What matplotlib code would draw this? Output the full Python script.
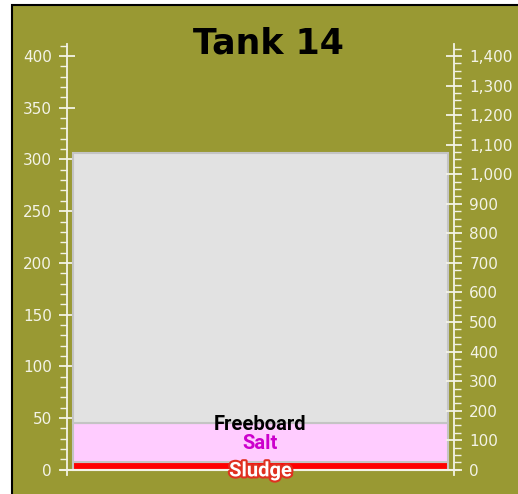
import matplotlib
matplotlib.use('Agg')
import matplotlib.pyplot as plt
import matplotlib.patheffects as pe
from matplotlib.patches import Rectangle
from matplotlib.ticker import MultipleLocator, FuncFormatter

# tank levels (left axis units), stacked bottom -> top
layers = ['Sludge', 'Salt', 'Freeboard']
heights = [8, 37, 261]
fills = ['#ff0000', '#ffccff', '#e2e2e2']
label_colors = ['white', '#cc00cc', 'black']
title = 'Tank 14'
ratio = 3.5  # right axis = left axis * ratio

olive = '#999933'
tick_col = '#f3f3e6'

fig = plt.figure(figsize=(5.18, 4.94), dpi=100)
fig.patch.set_facecolor('white')
bg = Rectangle((12 / 518, -0.05), 1.0, 1.05 - 5 / 494, transform=fig.transFigure,
               facecolor=olive, edgecolor='black', linewidth=1.5, zorder=-10)
fig.add_artist(bg)

ax = fig.add_axes([67 / 518, 19 / 494, (454 - 67) / 518, (475 - 44) / 494])
ax.set_facecolor('none')
ax.set_xlim(0, 1)
ax.set_ylim(-5, 411.6)

bottom = 0
for h, c in zip(heights, fills):
    ax.bar(0.5, h, width=0.968, bottom=bottom, color=c, edgecolor='#c4c4c4', linewidth=1.5, zorder=2)
    bottom += h

ax.axhline(0, color=tick_col, linewidth=1.5, xmin=-0.016, xmax=1.013, clip_on=False, zorder=3)

# layer labels
label_font = dict(family=['Roboto', 'DejaVu Sans'], fontsize=14.5, fontweight='bold',
                  ha='center', va='center', zorder=5)
ax.text(0.5, 43.5, layers[2], color=label_colors[2], **label_font)
ax.text(0.5, 25.5, layers[1], color=label_colors[1], **label_font)
ax.text(0.5, -1, layers[0], color=label_colors[0],
        path_effects=[pe.withStroke(linewidth=3, foreground='#e03020')], **label_font)

for s in ['top', 'right', 'bottom']:
    ax.spines[s].set_visible(False)
ax.spines['left'].set_color(tick_col)
ax.spines['left'].set_linewidth(1.3)
ax.set_xticks([])
ax.yaxis.set_major_locator(MultipleLocator(50))
ax.yaxis.set_minor_locator(MultipleLocator(10))
ax.tick_params(axis='y', which='major', direction='inout', length=12, width=1.3,
               colors=tick_col, labelsize=11, pad=5)
ax.tick_params(axis='y', which='minor', direction='out', length=5, width=1.0, colors=tick_col)

ax2 = ax.twinx()
ax2.set_ylim(-5 * ratio, 411.6 * ratio)
for s in ['top', 'left', 'bottom']:
    ax2.spines[s].set_visible(False)
ax2.spines['right'].set_color(tick_col)
ax2.spines['right'].set_linewidth(1.3)
ax2.yaxis.set_major_locator(MultipleLocator(100))
ax2.yaxis.set_minor_locator(MultipleLocator(25))
ax2.yaxis.set_major_formatter(FuncFormatter(lambda v, p: f'{int(v):,}'))
ax2.tick_params(axis='y', which='major', direction='inout', length=12, width=1.3,
                colors=tick_col, labelsize=11, pad=5)
ax2.tick_params(axis='y', which='minor', direction='out', length=5, width=1.0, colors=tick_col)

fig.text(268 / 518, 1 - 44 / 494, title, ha='center', va='center', fontsize=25,
         fontweight='bold', color='black')

plt.savefig('out.png', dpi=100, facecolor=fig.get_facecolor())
plt.close()
